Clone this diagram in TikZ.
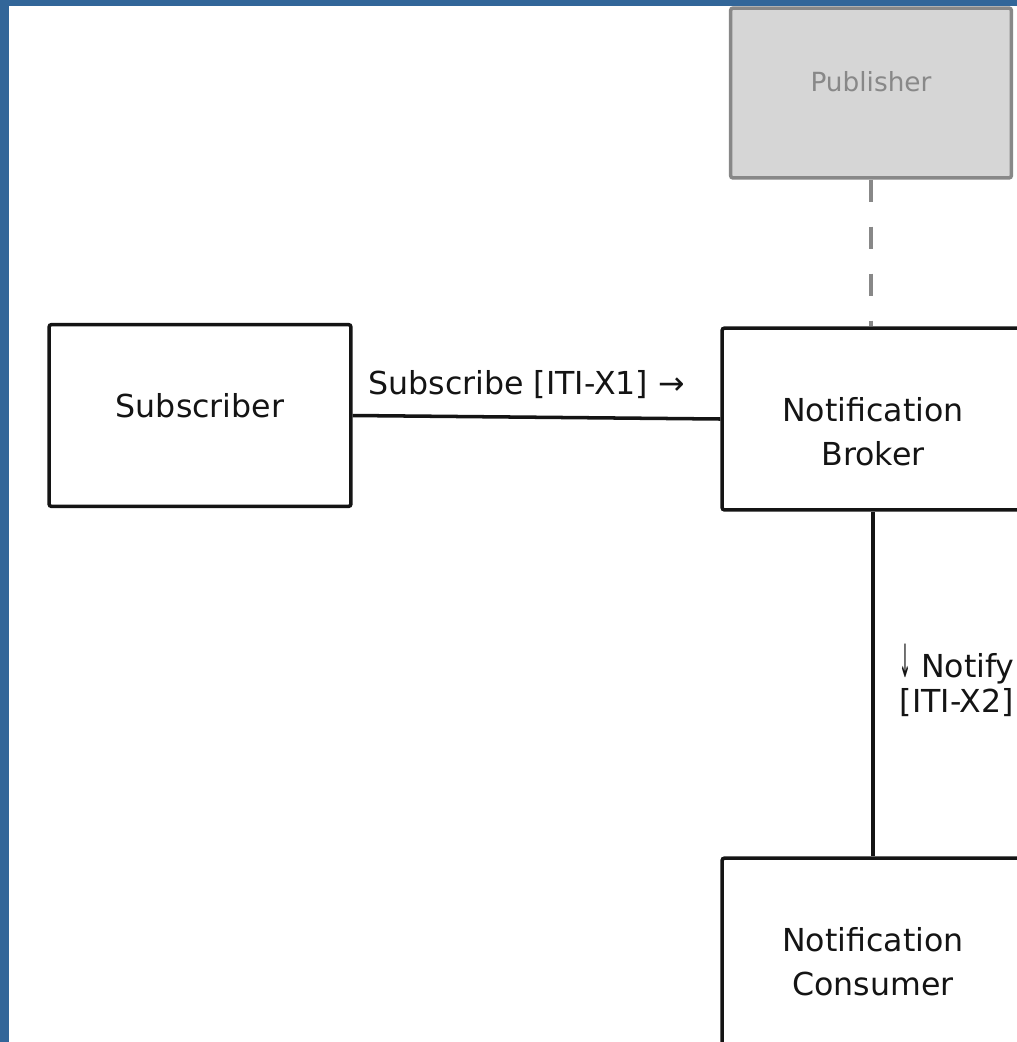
\documentclass[tikz,border=0pt]{standalone}
\usepackage{fontspec}
\setmainfont{DejaVu Sans}
\usetikzlibrary{positioning}
\definecolor{frameblue}{RGB}{50,102,153}
\definecolor{pubfill}{RGB}{214,214,214}
\definecolor{publine}{RGB}{136,136,136}
\definecolor{ink}{RGB}{20,20,20}
\newcommand{\BoxW}{6.04cm}
\newcommand{\BoxH}{3.64cm}
\newcommand{\DownTick}{\raisebox{-0.02em}{\scalebox{0.45}[1.45]{↓}}}
\tikzset{
	actor/.style={draw=ink, line width=2pt, rounded corners=1.5pt, minimum width=\BoxW, minimum height=\BoxH, inner sep=0pt},
	ghost/.style={draw=publine, fill=pubfill, line width=2pt, rounded corners=1.5pt, minimum width=5.62cm, minimum height=3.4cm, inner sep=0pt},
	actortext/.style={text=ink, align=center, inner sep=0pt, font=\fontsize{18}{25}\selectfont},
	ghosttext/.style={text=publine, inner sep=0pt, font=\fontsize{15}{20}\selectfont},
	link/.style={draw=ink, line width=2pt},
	linktext/.style={text=ink, align=left, inner sep=0pt, font=\fontsize{18}{20}\selectfont}
}

\begin{document}
\begin{tikzpicture}[x=0.02cm, y=-0.02cm]
		\useasboundingbox (0,0) rectangle (1017,1042);
		\clip (0,0) rectangle (1017,1042);
		\fill[frameblue] (0,0) rectangle (1017,1042);
		\fill[white] (9,6) rectangle (1017,1042);
		\node[ghost] (pub) at (871,93) {};
		\node[ghosttext] (pubtext) at ([yshift=0.22cm]pub.center) {Publisher};
		\node[actor] (sub) at (200,415.5) {};
		\node[actortext] (subtext) at ([yshift=0.2cm]sub.center) {Subscriber};
		\node[actor] (broker) at (873,419) {};
		\node[actortext] (brokertext) at ([yshift=-0.25cm]broker.center) {Notification\\Broker};
		\node[actor, minimum height=3.9cm] (consumer) at (873,955.5) {};
		\node[actortext] (consumertext) at ([yshift=-0.12cm]consumer.center) {Notification\\Consumer};
		\draw[publine, line width=2pt, dash pattern=on 0.44cm off 0.5cm] (pub.south) -- (pub.south |- broker.north);
		\draw[link] (sub.east) -- (broker.west)
			node[pos=0, anchor=south west, linktext, xshift=0.28cm, yshift=0.3cm] (subscribe) {Subscribe [ITI-X1] →};
		\draw[link] (broker.south) -- (consumer.north)
			node[pos=0.49, anchor=west, linktext, xshift=0.5cm] (notify) {\DownTick\hspace{0.3em}Notify\\{}[ITI-X2]};
	\end{tikzpicture}
\end{document}
